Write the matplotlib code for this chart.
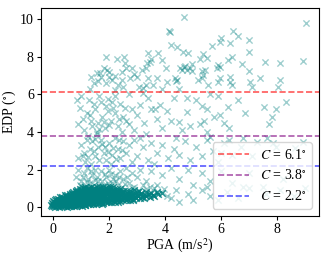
import matplotlib
matplotlib.use("Agg")
import matplotlib.pyplot as plt
import numpy as np

plt.rcParams['font.family'] = ['Liberation Serif', 'DejaVu Serif']
plt.rcParams['mathtext.fontset'] = 'stix'
plt.rcParams['font.size'] = 10

# scattered records (PGA in m/s^2, EDP in degrees)
sparse_high = [(4.69,10.09),(9.04,9.8),(4.12,9.36),(4.16,9.3),(6.44,9.36),(6.62,9.1),(6.0,9.0),(5.96,8.8),
    (6.32,8.74),(6.98,8.88),(7.01,8.27),(4.2,8.62),(4.42,8.53),(4.65,8.27),(4.83,8.22),(3.4,8.2),(3.74,8.2),
    (1.88,8.0),(2.27,7.86),(2.54,7.96),(2.57,7.65),(3.88,7.82),(3.46,7.73),(3.35,7.65),(4.04,7.38),(3.17,7.29),
    (2.81,7.38),(2.45,7.2),(2.75,6.85),(1.8,7.38),(1.92,7.29),(1.68,7.12),(1.56,7.15),(1.98,6.94),(2.1,6.76),
    (1.44,6.62),(2.45,6.76),(3.4,6.85),(3.7,6.85),(3.08,6.37),(3.2,6.32),(4.06,6.67),(4.42,6.76),(4.77,7.29),
    (4.6,7.29),(5.37,8.12),(5.49,7.95),(5.25,7.86),(5.67,8.55),(6.38,7.96),(6.26,7.82),(6.74,7.63),(7.57,7.73),
    (8.1,7.68),(8.92,7.77),(4.53,7.4),(4.66,7.45),(4.9,7.4),(4.96,7.22),(4.71,7.53),(4.96,7.6),(5.31,7.22),
    (5.37,7.05),(5.43,7.3),(5.9,7.56),(5.96,7.47),(5.84,7.38),(6.32,6.94),(6.98,7.26),(6.32,6.66),(6.38,6.5),
    (7.04,6.66),(7.1,6.37),(7.39,6.85),(8.11,6.76),(8.05,6.37),(4.35,6.85),(4.4,6.7),(5.19,6.76),(5.31,6.85),
    (5.96,6.85),(5.9,6.66),(5.53,6.48),(4.48,6.26),(1.9,6.6),(2.2,7.0),(2.3,6.5),(1.7,6.9),(1.6,6.7),(1.35,6.9),
    (2.0,7.2),(2.6,7.4),(2.9,7.1),(3.0,6.9),(3.5,7.9),(3.3,7.4),(3.55,6.5),(3.3,6.5),(2.5,6.4),(2.2,6.25),
    (1.3,6.3),(3.9,6.3)]

sparse_mid = [(0.85,5.7),(1.26,5.7),(1.62,5.9),(2.1,5.6),(2.69,6.0),(0.95,5.3),(1.2,5.0),(1.05,4.7),(1.5,5.2),
    (1.75,4.8),(1.9,5.4),(2.2,5.0),(2.4,5.5),(2.6,4.6),(2.3,4.3),(1.4,4.3),(1.1,4.1),(1.6,4.5),(1.85,4.2),
    (2.05,4.6),(2.8,5.2),(3.0,4.9),(3.1,5.43),(3.25,4.5),(3.5,5.2),(3.82,5.43),(3.65,5.2),(4.06,5.1),(3.7,4.7),
    (3.9,4.2),(4.3,5.8),(4.77,5.79),(4.77,5.08),(4.48,4.55),(5.3,5.4),(5.5,5.2),(5.25,4.4),(5.75,4.8),(5.9,5.9),
    (6.26,5.35),(5.96,4.9),(6.86,4.99),(7.54,5.31),(7.96,5.2),(8.32,5.61),(7.81,4.81),(7.73,4.41),(6.3,4.2),
    (5.5,4.0),(4.6,4.1),(4.2,4.6),(2.9,4.1),(3.3,3.9),(2.2,5.9),(1.7,5.6),(3.4,5.8),(3.2,6.05),(5.1,5.7),
    (5.6,6.0),(6.6,5.7),(6.1,4.5),(5.4,4.6),(4.9,4.3),(1.3,4.9),(1.55,4.0),(2.45,4.0),(0.9,4.4),(1.0,5.9),
    (1.95,5.1),(2.55,5.25),(1.45,5.5),(1.8,4.55),(2.0,4.35),(2.15,5.3),(1.65,4.15),(2.5,4.8),(1.35,4.6),
    (2.7,4.4),(1.95,5.75),(2.35,4.7)]

sparse_low = [(7.63,3.7),(7.27,3.49),(7.87,3.4),(8.94,3.49),(7.98,3.22),(8.64,3.13),(1.0,3.3),(1.2,3.6),
    (1.1,2.9),(1.3,3.1),(1.4,3.5),(1.5,2.7),(1.6,3.2),(1.7,3.6),(1.8,2.9),(1.9,2.5),(2.0,3.4),(2.1,2.8),
    (2.2,3.7),(2.3,3.1),(2.4,2.6),(2.5,3.5),(2.6,2.9),(2.7,3.3),(2.8,2.4),(2.9,3.6),(3.0,2.7),(3.2,3.2),
    (3.4,2.5),(3.5,3.4),(3.7,2.9),(3.9,3.3),(4.1,2.6),(4.3,3.1),(4.5,2.8),(4.7,3.5),(4.9,2.5),(5.1,3.2),
    (5.3,2.7),(5.5,3.6),(5.7,3.0),(5.9,2.4),(6.1,3.4),(6.4,2.8),(6.7,3.2),(7.1,2.7),(0.9,2.6),(1.15,2.4),
    (1.35,2.3),(1.25,3.8),(1.55,3.9),(1.85,3.2),(2.05,2.3),(2.35,3.6),(3.1,3.7),(3.6,2.3),(4.4,3.7),
    (5.6,3.75),(6.3,3.6),(6.8,3.7),(6.0,2.9),(1.45,3.0),(1.65,2.5),(1.75,3.35),(1.95,2.95),(2.15,3.15),
    (2.25,2.55),(1.05,2.75),(1.5,3.65),(2.45,3.05),(1.25,2.65),
    (0.8,1.6),(0.9,2.0),(1.0,1.4),(1.1,1.8),(1.2,2.1),(1.3,1.3),(1.4,1.7),(1.5,2.0),(1.6,1.4),(1.7,1.9),
    (1.8,1.2),(1.9,1.6),(2.0,2.0),(2.1,1.3),(2.2,1.7),(2.3,1.2),(2.4,1.9),(2.5,1.5),(2.6,2.1),(2.7,1.3),
    (2.8,1.8),(2.9,1.1),(3.0,1.6),(3.1,2.0),(3.3,1.4),(3.5,1.9),(3.7,1.2),(3.9,1.7),(4.2,2.1),(4.5,1.5),
    (4.8,2.0),(5.0,1.2),(5.3,1.8),(5.6,1.4),(6.0,1.9),(6.4,1.3),(7.0,1.8),(7.5,1.1),(8.2,1.5),(0.95,1.2),
    (1.05,1.6),(1.25,1.5),(1.45,1.2),(1.55,1.6),(1.75,1.4),(1.95,1.3),(2.15,1.5),(2.35,1.6),(2.55,1.25),
    (1.15,1.1),(1.35,1.9),(1.65,1.15),(2.05,1.75),(2.45,1.1),(1.2,1.35),(1.5,1.45),(1.85,1.75),(2.25,1.4),
    (2.65,1.6),(3.2,1.2),(3.45,1.05),(1.0,1.15),(1.75,1.1),(2.0,1.2),
    (4.2,0.5),(4.5,0.3),(4.8,0.7),(5.0,0.4),(5.3,0.9),(5.6,0.6),(5.9,0.4),(6.2,0.8),(6.6,0.5),(7.0,1.0),
    (7.6,0.7),(8.1,0.9),(8.6,0.6),(9.0,1.0),(4.4,0.9),(5.5,1.1),(6.8,1.1),(3.95,0.95),(4.05,0.6),(3.3,0.95),
    (3.6,1.0),(2.8,1.0)]

# the dense bulk of small-PGA records
dense = [(-0.06,0.04),(0.02,0.08),(0.07,0.02),(0.13,0.06),(0.19,0.03),(0.26,0.09),(0.33,0.04),(0.41,0.07),
    (0.48,0.03),(0.57,0.08),(0.64,0.05),(0.73,0.09),(0.82,0.06),(0.91,0.1),(1.02,0.08),(1.12,0.1),
    (-0.1,0.14),(-0.02,0.18),(0.04,0.12),(0.11,0.16),(0.17,0.19),(0.24,0.13),(0.31,0.17),(0.37,0.12),
    (0.45,0.18),(0.52,0.14),(0.6,0.19),(0.67,0.13),(0.75,0.17),(0.83,0.12),(0.9,0.18),(0.98,0.15),(1.06,0.19),
    (1.15,0.14),(1.24,0.18),(1.33,0.16),(1.42,0.19),(1.52,0.17),(1.63,0.2),(1.75,0.19),
    (-0.04,0.24),(0.03,0.28),(0.1,0.22),(0.18,0.27),(0.25,0.23),(0.33,0.29),(0.4,0.24),(0.47,0.21),(0.55,0.27),
    (0.62,0.23),(0.7,0.29),(0.78,0.22),(0.86,0.26),(0.94,0.21),(1.01,0.28),(1.09,0.24),(1.17,0.29),(1.26,0.23),
    (1.34,0.27),(1.43,0.24),(1.51,0.29),(1.6,0.25),(1.69,0.28),(1.78,0.24),(1.88,0.29),(1.97,0.26),(2.08,0.3),
    (2.2,0.28),(2.33,0.3),
    (0.0,0.33),(0.07,0.37),(0.14,0.32),(0.22,0.38),(0.29,0.34),(0.36,0.31),(0.44,0.37),(0.51,0.33),(0.59,0.39),
    (0.66,0.34),(0.74,0.31),(0.81,0.37),(0.89,0.33),(0.97,0.39),(1.05,0.32),(1.13,0.36),(1.21,0.31),(1.3,0.38),
    (1.38,0.34),(1.47,0.39),(1.55,0.32),(1.64,0.37),(1.72,0.33),(1.81,0.38),(1.9,0.34),(1.99,0.31),(2.08,0.37),
    (2.17,0.33),(2.27,0.39),(2.37,0.35),(2.48,0.38),(2.6,0.36),(2.73,0.4),(2.86,0.39),
    (0.09,0.42),(0.17,0.46),(0.25,0.41),(0.32,0.48),(0.4,0.44),(0.48,0.49),(0.55,0.43),(0.63,0.47),(0.71,0.41),
    (0.79,0.46),(0.87,0.42),(0.95,0.48),(1.03,0.44),(1.11,0.49),(1.19,0.43),(1.27,0.47),(1.36,0.41),(1.44,0.46),
    (1.53,0.42),(1.61,0.48),(1.7,0.44),(1.79,0.49),(1.87,0.43),(1.96,0.47),(2.05,0.42),(2.14,0.48),(2.23,0.44),
    (2.32,0.49),(2.42,0.43),(2.52,0.47),(2.62,0.44),(2.73,0.48),(2.85,0.45),(2.97,0.49),(3.1,0.47),(3.25,0.5),
    (0.24,0.52),(0.31,0.56),(0.39,0.51),(0.47,0.58),(0.54,0.53),(0.62,0.59),(0.7,0.54),(0.78,0.51),(0.86,0.57),
    (0.94,0.52),(1.02,0.58),(1.1,0.54),(1.18,0.6),(1.26,0.53),(1.35,0.57),(1.43,0.52),(1.52,0.59),(1.6,0.54),
    (1.69,0.58),(1.78,0.52),(1.86,0.56),(1.95,0.51),(2.04,0.58),(2.13,0.53),(2.22,0.57),(2.31,0.52),(2.41,0.59),
    (2.5,0.54),(2.6,0.57),(2.7,0.53),(2.81,0.58),(2.92,0.55),(3.04,0.59),(3.17,0.56),(3.3,0.6),(3.45,0.57),(3.6,0.6),
    (0.42,0.63),(0.5,0.67),(0.58,0.62),(0.66,0.68),(0.74,0.64),(0.82,0.69),(0.9,0.63),(0.98,0.67),(1.06,0.61),
    (1.14,0.66),(1.22,0.7),(1.3,0.64),(1.39,0.68),(1.47,0.62),(1.56,0.67),(1.64,0.63),(1.73,0.69),(1.82,0.64),
    (1.91,0.68),(2.0,0.62),(2.09,0.67),(2.18,0.63),(2.28,0.69),(2.37,0.65),(2.47,0.7),(2.57,0.64),(2.67,0.68),
    (2.78,0.63),(2.89,0.67),(3.01,0.65),(3.14,0.69),(3.28,0.66),(3.42,0.7),(3.58,0.67),(3.75,0.7),
    (0.58,0.72),(0.66,0.77),(0.74,0.73),(0.82,0.79),(0.9,0.74),(0.98,0.78),(1.06,0.72),(1.14,0.77),(1.23,0.73),
    (1.31,0.79),(1.4,0.74),(1.48,0.78),(1.57,0.72),(1.65,0.77),(1.74,0.73),(1.83,0.79),(1.92,0.75),(2.01,0.71),
    (2.1,0.77),(2.2,0.73),(2.3,0.78),(2.4,0.74),(2.51,0.79),(2.62,0.75),(2.74,0.78),(2.87,0.74),(3.0,0.79),
    (3.15,0.76),(3.32,0.8),(3.5,0.77),(3.7,0.8),(3.88,0.78),
    (0.72,0.83),(0.8,0.87),(0.88,0.82),(0.96,0.88),(1.04,0.84),(1.12,0.89),(1.2,0.83),(1.29,0.87),(1.37,0.82),
    (1.46,0.88),(1.54,0.84),(1.63,0.89),(1.72,0.83),(1.81,0.87),(1.9,0.82),(1.99,0.88),(2.08,0.84),(2.18,0.89),
    (2.28,0.85),(2.39,0.88),(2.5,0.84),(2.62,0.89),(2.75,0.86),(2.9,0.9),(3.05,0.87),
    (0.86,0.93),(0.95,0.97),(1.03,0.92),(1.12,0.98),(1.2,0.94),(1.29,0.99),(1.38,0.93),(1.47,0.97),(1.56,0.92),
    (1.65,0.98),(1.74,0.94),(1.83,0.99),(1.93,0.95),(2.03,0.98),(2.14,0.94),(2.26,0.99),(2.38,0.96),
    (1.05,1.03),(1.15,1.07),(1.25,1.02),(1.35,1.08),(1.46,1.04),(1.57,1.09),(1.68,1.05),(1.79,1.08),(1.9,1.03),
    (2.02,1.07),(2.15,1.05)]

thresholds = [6.1, 3.8, 2.2]
thr_colors = ['red', 'purple', 'blue']

sx, sy = np.array(sparse_high + sparse_mid + sparse_low).T
dx, dy = np.array(dense).T

fig = plt.figure(figsize=(3.27, 2.54), dpi=100)
ax = fig.add_axes([0.1245, 0.15, 0.851, 0.817])
ax.scatter(dx, dy, marker='x', color='teal', s=22, linewidths=1.1, alpha=0.85)
ax.scatter(sx, sy, marker='x', color='teal', s=20, linewidths=1.0, alpha=0.38)
for c, col in zip(thresholds, thr_colors):
    ax.axhline(c, color=col, ls='--', lw=1.2, alpha=0.65, label=r'$C$ = %.1f$^{\circ}$' % c)

ax.set_xlim(-0.45, 9.5)
ax.set_ylim(-0.46, 10.57)
ax.set_xticks([0, 2, 4, 6, 8])
ax.set_yticks([0, 2, 4, 6, 8, 10])
ax.tick_params(labelsize=10, length=3, pad=2)
ax.set_xlabel(r'PGA (m/s$^2$)')
ax.set_ylabel(r'EDP ($^{\circ}$)')
ax.xaxis.set_label_coords(0.5, -0.1)
ax.yaxis.set_label_coords(-0.08, 0.5)
ax.legend(loc='lower right', fontsize=10, handlelength=2.2)
fig.savefig('out.png', dpi=100)
